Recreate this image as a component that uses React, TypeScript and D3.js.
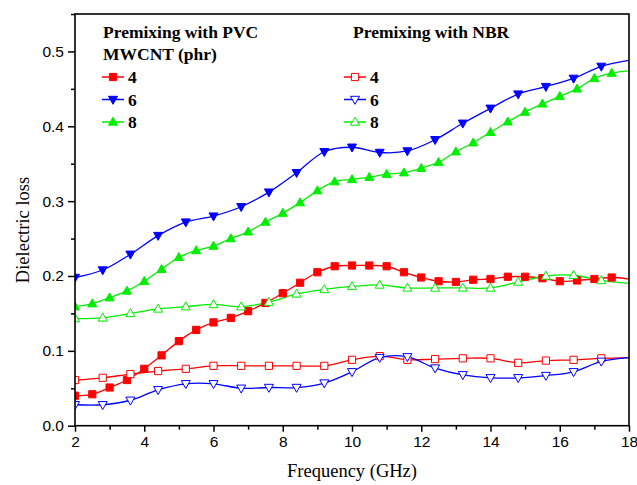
import React from "react";
import * as d3 from "d3";

// frequencies (GHz) at which values were read
const freqFine = [2, 2.5, 3, 3.5, 4, 4.5, 5, 5.5, 6, 6.5, 7, 7.5, 8, 8.5, 9, 9.5, 10, 10.5, 11, 11.5, 12, 12.5, 13, 13.5, 14, 14.5, 15, 15.5, 16, 16.5, 17, 17.5, 18];
const freqCoarse = [2, 2.8, 3.6, 4.4, 5.2, 6, 6.8, 7.6, 8.4, 9.2, 10, 10.8, 11.6, 12.4, 13.2, 14, 14.8, 15.6, 16.4, 17.2, 18];

// premixing with PVC
const pvc4 = [0.040, 0.042, 0.051, 0.061, 0.076, 0.094, 0.113, 0.128, 0.138, 0.144, 0.153, 0.164, 0.177, 0.191, 0.205, 0.213, 0.214, 0.214, 0.213, 0.205, 0.198, 0.193, 0.192, 0.195, 0.196, 0.199, 0.199, 0.197, 0.193, 0.194, 0.196, 0.198, 0.196];
const pvc6 = [0.198, 0.208, 0.229, 0.254, 0.272, 0.280, 0.2925, 0.312, 0.338, 0.366, 0.372, 0.365, 0.367, 0.382, 0.404, 0.424, 0.443, 0.453, 0.464, 0.480, 0.488];
const pvc8 = [0.159, 0.163, 0.171, 0.180, 0.193, 0.209, 0.225, 0.234, 0.240, 0.250, 0.259, 0.272, 0.284, 0.298, 0.314, 0.326, 0.329, 0.332, 0.336, 0.338, 0.344, 0.352, 0.366, 0.378, 0.392, 0.406, 0.419, 0.430, 0.440, 0.450, 0.464, 0.471, 0.474];

// premixing with NBR
const nbr4 = [0.061, 0.064, 0.069, 0.073, 0.076, 0.080, 0.080, 0.080, 0.080, 0.080, 0.088, 0.093, 0.088, 0.089, 0.090, 0.090, 0.084, 0.087, 0.088, 0.090, 0.091];
const nbr6 = [0.028, 0.028, 0.034, 0.048, 0.056, 0.056, 0.050, 0.051, 0.051, 0.057, 0.072, 0.091, 0.092, 0.077, 0.068, 0.064, 0.064, 0.067, 0.072, 0.086, 0.091];
const nbr8 = [0.143, 0.144, 0.150, 0.156, 0.159, 0.162, 0.159, 0.165, 0.176, 0.182, 0.186, 0.188, 0.184, 0.184, 0.184, 0.184, 0.192, 0.200, 0.201, 0.194, 0.190];

const xTicks = [2, 4, 6, 8, 10, 12, 14, 16, 18];
const yTicks = [0, 0.1, 0.2, 0.3, 0.4, 0.5];
const legendLabels = ["4", "6", "8"];

const RED = "#ff0000";
const BLUE = "#0000ff";
const GREEN = "#00ee00";

type Series = { x: number[]; y: number[]; color: string; shape: string; open: boolean };

const pvcSeries: Series[] = [
  { x: freqFine, y: pvc4, color: RED, shape: "square", open: false },
  { x: freqCoarse, y: pvc6, color: BLUE, shape: "down", open: false },
  { x: freqFine, y: pvc8, color: GREEN, shape: "up", open: false },
];
const nbrSeries: Series[] = [
  { x: freqCoarse, y: nbr4, color: RED, shape: "square", open: true },
  { x: freqCoarse, y: nbr6, color: BLUE, shape: "down", open: true },
  { x: freqCoarse, y: nbr8, color: GREEN, shape: "up", open: true },
];

function markerPath(shape: string) {
  if (shape === "square") return "M-3.6,-3.6H3.6V3.6H-3.6Z";
  if (shape === "up") return "M0,-4.8L4.5,3.2H-4.5Z";
  return "M0,4.8L4.5,-3.2H-4.5Z";
}

function Marker({ s, cx, cy }: { s: Series; cx: number; cy: number }) {
  return (
    <path
      d={markerPath(s.shape)}
      transform={`translate(${cx},${cy})`}
      fill={s.open ? "#fff" : s.color}
      stroke={s.color}
      strokeWidth={1}
    />
  );
}

const isMajor = (ticks: number[], v: number) => ticks.some((t) => Math.abs(t - v) < 1e-6);

export default function App() {
  const width = 637;
  const height = 485;
  const left = 75;
  const right = 629;
  const top = 14;
  const bottom = 425.7;

  const x = d3.scaleLinear().domain([2, 18]).range([left, right]);
  const y = d3.scaleLinear().domain([0, 0.55]).range([bottom, top]);

  const xAxisRef = React.useRef<SVGGElement>(null);
  const yAxisRef = React.useRef<SVGGElement>(null);

  React.useEffect(() => {
    const sans = "'Liberation Sans', Arial, sans-serif";

    const xg = d3.select(xAxisRef.current);
    xg.call(d3.axisBottom(x).tickValues(d3.range(2, 18.5, 1)).tickSize(5).tickFormat((d) => (isMajor(xTicks, +d) ? String(d) : "")));
    xg.select(".domain").remove();
    xg.selectAll(".tick line").attr("stroke", "#000").attr("stroke-width", 1.5).attr("y2", (d: any) => (isMajor(xTicks, +d) ? 6 : 4));
    xg.selectAll(".tick text").attr("y", 10).style("font-size", "15.5px").style("font-family", sans).attr("fill", "#000");

    const yg = d3.select(yAxisRef.current);
    yg.call(d3.axisLeft(y).tickValues(d3.range(0, 0.551, 0.05)).tickSize(6).tickFormat((d) => (isMajor(yTicks, +d) ? d3.format(".1f")(+d) : "")));
    yg.select(".domain").remove();
    yg.selectAll(".tick line").attr("stroke", "#000").attr("stroke-width", 1.5).attr("x2", (d: any) => (isMajor(yTicks, +d) ? -7 : -4));
    yg.selectAll(".tick text").attr("x", -11).style("font-size", "15.5px").style("font-family", sans).attr("fill", "#000");
  }, []);

  const line = d3
    .line<[number, number]>()
    .x((d) => x(d[0]))
    .y((d) => y(d[1]))
    .curve(d3.curveCatmullRom.alpha(0.5));

  const all = [...pvcSeries, ...nbrSeries];
  const serif = "'Liberation Serif', 'Times New Roman', serif";

  const legendRow = (s: Series, i: number, x0: number) => {
    const cy = 77 + i * 22.5;
    return (
      <g key={i}>
        <line x1={x0} x2={x0 + 22} y1={cy} y2={cy} stroke={s.color} strokeWidth={1.5} />
        <Marker s={s} cx={x0 + 11} cy={cy} />
        <text x={x0 + 26} y={cy + 6} fontFamily={serif} fontWeight="bold" fontSize={17.5}>
          {legendLabels[i]}
        </text>
      </g>
    );
  };

  return (
    <div>
      <style>{`body{margin:0}`}</style>
      <svg width={width} height={height} style={{ display: "block", background: "#fff" }}>
        <defs>
          <clipPath id="plot">
            <rect x={left} y={top} width={right - left} height={bottom - top} />
          </clipPath>
        </defs>
        <g clipPath="url(#plot)">
          {all.map((s, k) => (
            <path
              key={k}
              d={line(s.x.map((f, i) => [f, s.y[i]] as [number, number])) || ""}
              fill="none"
              stroke={s.color}
              strokeWidth={1.3}
            />
          ))}
          {all.map((s, k) => (
            <g key={k}>
              {s.x.map((f, i) => (f < 18 ? <Marker key={i} s={s} cx={x(f)} cy={y(s.y[i])} /> : null))}
            </g>
          ))}
        </g>
        <rect x={left} y={top} width={right - left} height={bottom - top} fill="none" stroke="#000" strokeWidth={1.6} />
        <g ref={xAxisRef} transform={`translate(0,${bottom})`} />
        <g ref={yAxisRef} transform={`translate(${left},0)`} />

        <text x={(left + right) / 2} y={477} textAnchor="middle" fontFamily={serif} fontSize={18.5}>
          Frequency (GHz)
        </text>
        <text transform={`translate(29,230) rotate(-90)`} textAnchor="middle" fontFamily={serif} fontSize={18.5}>
          Dielectric loss
        </text>

        <text x={103} y={38} fontFamily={serif} fontWeight="bold" fontSize={17.5}>
          Premixing with PVC
        </text>
        <text x={103} y={60} fontFamily={serif} fontWeight="bold" fontSize={17.5}>
          MWCNT (phr)
        </text>
        {pvcSeries.map((s, i) => legendRow(s, i, 102))}

        <text x={353} y={38} fontFamily={serif} fontWeight="bold" fontSize={17.5}>
          Premixing with NBR
        </text>
        {nbrSeries.map((s, i) => legendRow(s, i, 344))}
      </svg>
    </div>
  );
}
